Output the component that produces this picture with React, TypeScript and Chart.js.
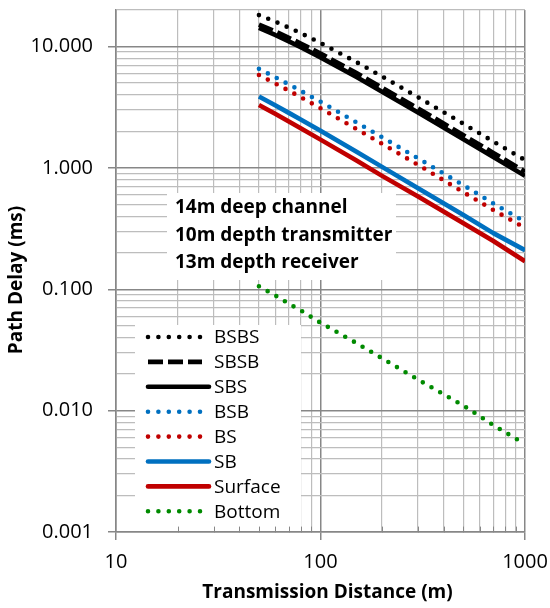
import { useEffect, useRef } from 'react';
import { Chart, registerables } from 'chart.js';

Chart.register(...registerables);

// Transmission distance (m) at which each path delay was evaluated
const DISTANCE = [50, 60, 70, 80, 100, 150, 200, 300, 500, 700, 1000];

// Path delay (ms) relative to the direct path, per multipath route
const BSBS = [18.16, 16.05, 14.32, 12.9, 10.71, 7.44, 5.67, 3.82, 2.31, 1.65, 1.16];
const SBSB = [15.18, 13.32, 11.82, 10.6, 8.76, 6.04, 4.59, 3.09, 1.86, 1.33, 0.93];
const SBS = [14.22, 12.45, 11.03, 9.88, 8.14, 5.6, 4.25, 2.86, 1.72, 1.23, 0.86];
const BSB = [6.55, 5.6, 4.88, 4.32, 3.51, 2.37, 1.79, 1.2, 0.72, 0.51, 0.36];
const BS = [5.83, 4.97, 4.33, 3.83, 3.1, 2.09, 1.58, 1.06, 0.63, 0.45, 0.32];
const SB = [3.88, 3.28, 2.84, 2.51, 2.02, 1.36, 1.02, 0.68, 0.41, 0.29, 0.21];
const SURFACE = [3.3, 2.79, 2.41, 2.12, 1.71, 1.15, 0.86, 0.58, 0.35, 0.25, 0.17];
const BOTTOM = [0.106, 0.089, 0.076, 0.067, 0.053, 0.036, 0.027, 0.018, 0.011, 0.0076, 0.0053];

const SERIES_NAMES = ['BSBS', 'SBSB', 'SBS', 'BSB', 'BS', 'SB', 'Surface', 'Bottom'];
const SERIES_VALUES = [BSBS, SBSB, SBS, BSB, BS, SB, SURFACE, BOTTOM];

// Axis ranges and labelled decades
const X_MIN = 10;
const X_MAX = 1000;
const Y_MIN = 0.001;
const Y_MAX = 20;
const X_DECADES = [10, 100, 1000];
const Y_DECADES = [0.001, 0.01, 0.1, 1, 10];

const NOTE_LINES = ['14m deep channel', '10m depth transmitter', '13m depth receiver'];

const X_TITLE = 'Transmission Distance (m)';
const Y_TITLE = 'Path Delay (ms)';

const BLACK = '#000000';
const BLUE = '#0070C0';
const RED = '#C00000';
const GREEN = '#008A00';

type LineStyle = { color: string; dash: number[]; cap: CanvasLineCap };
const DOT = [0, 10];
const DASH = [15, 5];
const STYLES: LineStyle[] = [
  { color: BLACK, dash: DOT, cap: 'round' },
  { color: BLACK, dash: DASH, cap: 'butt' },
  { color: BLACK, dash: [], cap: 'butt' },
  { color: BLUE, dash: DOT, cap: 'round' },
  { color: RED, dash: DOT, cap: 'round' },
  { color: BLUE, dash: [], cap: 'butt' },
  { color: RED, dash: [], cap: 'butt' },
  { color: GREEN, dash: DOT, cap: 'round' },
];

const LINE_WIDTH = 4.6;
const FONT = '"Open Sans", "Liberation Sans", sans-serif';
const MAJOR_GRID = '#878787';
const MINOR_GRID = '#bdbdbd';

// 1..9 multiples of every decade spanned by an axis
function logGrid(min: number, max: number): number[] {
  const out: number[] = [];
  for (let e = Math.floor(Math.log10(min)); e <= Math.ceil(Math.log10(max)); e++) {
    for (let m = 1; m <= 9; m++) {
      const v = Number((m * Math.pow(10, e)).toPrecision(4));
      if (v >= min - 1e-12 && v <= max + 1e-12) out.push(v);
    }
  }
  return out;
}

const isDecade = (list: number[], v: number) => list.some((d) => Math.abs(d - v) / d < 1e-6);

const annotations = {
  id: 'annotations',
  afterDraw(chart: any) {
    const ctx: CanvasRenderingContext2D = chart.ctx;
    const area = chart.chartArea;
    const xs = chart.scales.x;

    ctx.save();

    // note box
    ctx.fillStyle = '#ffffff';
    ctx.fillRect(167, 193, 229, 87);
    ctx.fillStyle = '#000000';
    ctx.font = `bold 19px ${FONT}`;
    ctx.textAlign = 'left';
    ctx.textBaseline = 'middle';
    NOTE_LINES.forEach((t, i) => ctx.fillText(t, 175, 208 + i * 27.5));

    // legend box
    const boxTop = 325;
    ctx.fillStyle = '#ffffff';
    ctx.fillRect(135, boxTop, 166, area.bottom - boxTop - 1);

    SERIES_NAMES.forEach((name, i) => {
      const st = STYLES[i];
      const y = 337 + i * 24.9;
      const solid = st.dash.length === 0;
      ctx.beginPath();
      ctx.strokeStyle = st.color;
      ctx.lineWidth = LINE_WIDTH;
      ctx.lineCap = solid ? 'round' : st.cap;
      ctx.setLineDash(st.dash === DOT ? [0, 10.4] : st.dash);
      ctx.moveTo(148, y);
      ctx.lineTo(solid ? 209 : st.dash === DOT ? 201 : 202, y);
      ctx.stroke();
      ctx.setLineDash([]);
      ctx.fillStyle = '#000000';
      ctx.font = `19px ${FONT}`;
      ctx.textAlign = 'left';
      ctx.textBaseline = 'middle';
      ctx.fillText(name, 214, y + 1);
    });

    // short inside tick marks on the distance axis
    ctx.strokeStyle = MAJOR_GRID;
    ctx.lineWidth = 1;
    for (const v of logGrid(X_MIN, X_MAX)) {
      if (isDecade(X_DECADES, v)) continue;
      const px = Math.round(xs.getPixelForValue(v)) + 0.5;
      ctx.beginPath();
      ctx.moveTo(px, area.bottom);
      ctx.lineTo(px, area.bottom - 5);
      ctx.stroke();
    }

    // axis titles
    ctx.fillStyle = '#000000';
    ctx.font = `bold 19px ${FONT}`;
    ctx.textAlign = 'center';
    ctx.textBaseline = 'middle';
    ctx.fillText(X_TITLE, (area.left + area.right) / 2 + 7, 593);
    ctx.translate(17, (area.top + area.bottom) / 2 + 9);
    ctx.rotate(-Math.PI / 2);
    ctx.fillText(Y_TITLE, 0, 0);

    ctx.restore();
  },
};

export default function App() {
  const ref = useRef<HTMLCanvasElement | null>(null);

  useEffect(() => {
    document.body.style.margin = '0';
    let chart: Chart | null = null;
    let cancelled = false;

    const build = () => {
      if (cancelled || !ref.current) return;
      const datasets = SERIES_NAMES.map((name, i) => ({
        label: name,
        data: DISTANCE.map((d, k) => ({ x: d, y: SERIES_VALUES[i][k] })),
        borderColor: STYLES[i].color,
        backgroundColor: STYLES[i].color,
        borderWidth: LINE_WIDTH,
        borderDash: STYLES[i].dash,
        borderCapStyle: STYLES[i].cap,
        borderJoinStyle: 'round' as const,
        pointRadius: 0,
        tension: 0,
        fill: false,
      })).reverse();

      const gridColor = (c: any) => (c.tick && c.tick.major ? MAJOR_GRID : MINOR_GRID);
      const gridWidth = (c: any) => (c.tick && c.tick.major ? 1.5 : 1.2);
      const tickColor = (c: any) => (c.tick && c.tick.major ? MAJOR_GRID : 'rgba(0,0,0,0)');

      chart = new Chart(ref.current, {
        type: 'line',
        data: { datasets },
        plugins: [annotations],
        options: {
          responsive: false,
          animation: false,
          devicePixelRatio: 1,
          layout: { padding: { top: 10, right: 25, bottom: 0, left: 0 } },
          plugins: {
            legend: { display: false },
            title: { display: false },
            tooltip: { enabled: false },
          },
          scales: {
            x: {
              type: 'logarithmic',
              position: 'bottom',
              min: X_MIN,
              max: X_MAX,
              afterBuildTicks: (s: any) => {
                s.ticks = logGrid(X_MIN, X_MAX).map((v) => ({ value: v, major: isDecade(X_DECADES, v) }));
              },
              afterFit: (s: any) => {
                s.height = 76;
                s.paddingLeft = 0;
                s.paddingRight = 0;
              },
              ticks: {
                autoSkip: false,
                maxRotation: 0,
                padding: 10,
                color: '#000000',
                font: { family: FONT, size: 20 },
                callback: (v: any) => (isDecade(X_DECADES, Number(v)) ? String(Number(v)) : ''),
              },
              grid: { color: gridColor, lineWidth: gridWidth, tickColor, tickLength: 8 },
              border: { color: MAJOR_GRID, width: 1.5 },
            },
            y: {
              type: 'logarithmic',
              position: 'left',
              min: Y_MIN,
              max: Y_MAX,
              afterBuildTicks: (s: any) => {
                s.ticks = logGrid(Y_MIN, Y_MAX).map((v) => ({ value: v, major: isDecade(Y_DECADES, v) }));
              },
              afterFit: (s: any) => {
                s.width = 116;
                s.paddingTop = 0;
                s.paddingBottom = 0;
              },
              ticks: {
                autoSkip: false,
                padding: 15,
                color: '#000000',
                font: { family: FONT, size: 20 },
                callback: (v: any) => (isDecade(Y_DECADES, Number(v)) ? Number(v).toFixed(3) : ''),
              },
              grid: { color: gridColor, lineWidth: gridWidth, tickColor, tickLength: 8 },
              border: { color: MAJOR_GRID, width: 1.5 },
            },
          },
        },
      } as any);
    };

    const fonts = (document as any).fonts;
    if (fonts && fonts.load) {
      Promise.all([fonts.load(`19px ${FONT}`), fonts.load(`bold 19px ${FONT}`)]).then(build, build);
    } else {
      build();
    }

    return () => {
      cancelled = true;
      if (chart) chart.destroy();
    };
  }, []);

  return (
    <div style={{ width: 550, height: 608 }}>
      <canvas ref={ref} width={550} height={608} style={{ display: 'block' }} />
    </div>
  );
}
